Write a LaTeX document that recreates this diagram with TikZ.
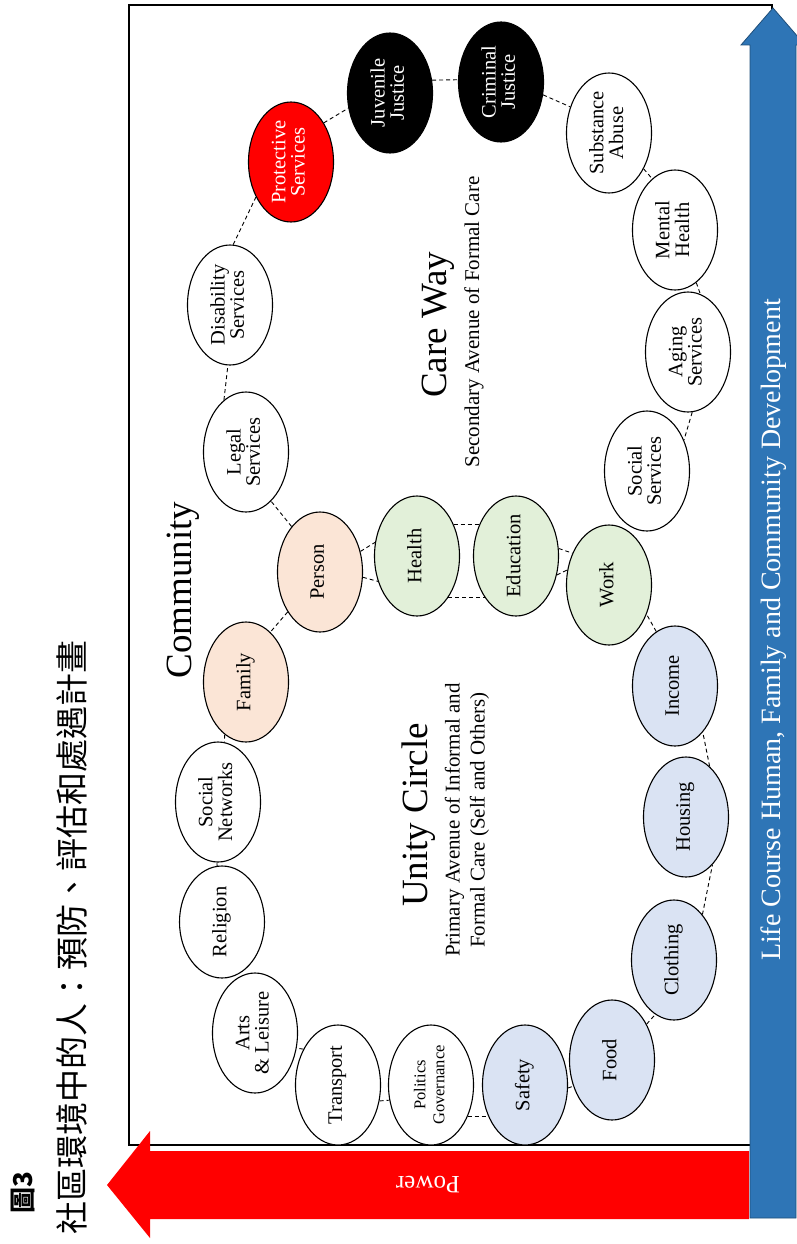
\documentclass[tikz,border=0pt]{standalone}
\usepackage{fontspec}
\setmainfont{Liberation Serif}
\newfontfamily\cjk{Noto Sans CJK TC}
\usetikzlibrary{shapes.geometric}
\definecolor{peach}{HTML}{FBE5D6}
\definecolor{lgreen}{HTML}{E2F0D9}
\definecolor{lblue}{HTML}{DAE3F3}
\definecolor{barblue}{HTML}{2E75B6}
\definecolor{darkblue}{HTML}{1F4E79}
\newcommand\rt[2][20.5]{\rotatebox{90}{\fontsize{#1}{19}\selectfont\begin{tabular}{@{}c@{}}#2\end{tabular}}}
\begin{document}
\begin{tikzpicture}[x=1pt,y=-1pt,
  oval/.style={ellipse, draw, line width=1.1pt, minimum width=85pt, minimum height=120pt, inner sep=0pt, fill=white},
  pch/.style={oval, fill=peach},
  grn/.style={oval, fill=lgreen},
  blu/.style={oval, fill=lblue},
  redo/.style={oval, fill=red, text=white},
  blk/.style={oval, fill=black, text=white},
  conn/.style={dash pattern=on 4pt off 3pt, line width=0.9pt},
  rtext/.style={rotate=90, inner sep=0pt}]
\useasboundingbox (0,0) rectangle (796,1244);
% frame
\draw[line width=2pt] (129,5) rectangle (772,1145);
% red arrow
\fill[red] (749,1151) -- (150,1151) -- (150,1131) -- (107,1185) -- (150,1238) -- (150,1219) -- (749,1219) -- cycle;
\node[inner sep=0pt, text=white] (power) at (428,1185) {\rotatebox{180}{\fontsize{25}{25}\selectfont Power}};
% blue arrow
\filldraw[fill=barblue, draw=darkblue, line width=0.8pt] (750,1218) -- (750,45) -- (741,45) -- (773,8) -- (805,45) -- (796,45) -- (796,1218) -- cycle;
\node[rtext, text=white] (life) at (774,630) {\fontsize{28}{28}\selectfont Life Course Human, Family and Community Development};
% titles
\node[rtext, anchor=east] (title) at (72,640) {\fontsize{33}{33}\selectfont\cjk 社區環境中的人：預防、評估和處遇計畫};
\node[rtext] (fig) at (23,1193) {\fontsize{26}{26}\selectfont\cjk\bfseries 圖3};
\node[rtext] (community) at (183,590) {\fontsize{37}{37}\selectfont Community};
\node[rtext] (careway) at (438,325) {\fontsize{37}{37}\selectfont Care Way};
\node[rtext] (caresub) at (474,322) {\fontsize{21}{21}\selectfont Secondary Avenue of Formal Care};
\node[rtext] (unity) at (419,815) {\fontsize{37}{37}\selectfont Unity Circle};
\node[rtext] (unitysub) at (467,820) {\fontsize{21}{25}\selectfont\begin{tabular}{@{}c@{}}Primary Avenue of Informal and\\Formal Care (Self and Others)\end{tabular}};
% nodes
\node[oval] (tr) at (338,1085) {\rt{Transport}};
\node[oval] (pg) at (431,1085) {\rt[16.5]{Politics\\Governance}};
\node[blu] (sa) at (525,1085) {\rt{Safety}};
\node[oval] (al) at (255,1033) {\rt{Arts\\\& Leisure}};
\node[oval, minimum height=112pt] (re) at (222,922) {\rt{Religion}};
\node[oval] (sn) at (218,802) {\rt{Social\\Networks}};
\node[pch] (fa) at (246,682) {\rt{Family}};
\node[pch] (pe) at (320,572) {\rt{Person}};
\node[grn] (he) at (417,556) {\rt{Health}};
\node[grn] (ed) at (516,556) {\rt{Education}};
\node[grn] (wo) at (609,585) {\rt{Work}};
\node[blu] (in) at (675,686) {\rt{Income}};
\node[blu] (ho) at (686,817) {\rt{Housing}};
\node[blu] (cl) at (674,960) {\rt{Clothing}};
\node[blu] (fo) at (612,1060) {\rt{Food}};
\node[oval] (le) at (246,452) {\rt{Legal\\Services}};
\node[oval] (di) at (230,305) {\rt{Disability\\Services}};
\node[redo] (ps) at (291,162) {\rt{Protective\\Services}};
\node[blk] (jj) at (390,93) {\rt{Juvenile\\Justice}};
\node[blk] (cj) at (501,82) {\rt{Criminal\\Justice}};
\node[oval] (sb) at (609,133) {\rt{Substance\\Abuse}};
\node[oval] (mh) at (675,230) {\rt{Mental\\Health}};
\node[oval] (ag) at (688,352) {\rt{Aging\\Services}};
\node[oval] (ss) at (647,471) {\rt{Social\\Services}};
% connectors
\draw[conn] (tr.134) -- (al.-20);
\draw[conn] (tr.-21) -- (pg.-160);
\draw[conn] (pg.-41) -- (sa.-139);
\draw[conn] (sa.-4) -- (fo.-146);
\draw[conn] (fo.46) -- (cl.-109);
\draw[conn] (cl.58) -- (ho.-61);
\draw[conn] (ho.65) -- (in.-59);
\draw[conn] (in.109) -- (wo.-38);
\draw[conn] (ed.10) -- (wo.139);
\draw[conn] (ed.-25) -- (wo.160);
\draw[conn] (he.41) -- (ed.139);
\draw[conn] (he.-53) -- (ed.-127);
\draw[conn] (pe.27) -- (he.162);
\draw[conn] (pe.-7) -- (he.-147);
\draw[conn] (pe.122) -- (le.-63);
\draw[conn] (pe.-129) -- (fa.64);
\draw[conn] (fa.-112) -- (sn.84);
\draw[conn] (sn.-91) -- (re.95);
\draw[conn] (le.113) -- (di.-92);
\draw[conn] (di.87) -- (ps.-135);
\draw[conn] (ps.50) -- (jj.200);
\draw[conn] (jj.17) -- (cj.177);
\draw[conn] (cj.-17) -- (sb.146);
\draw[conn] (sb.-46) -- (mh.114);
\draw[conn] (mh.-68) -- (ag.78);
\draw[conn] (ag.-86) -- (ss.40);
\end{tikzpicture}
\end{document}
